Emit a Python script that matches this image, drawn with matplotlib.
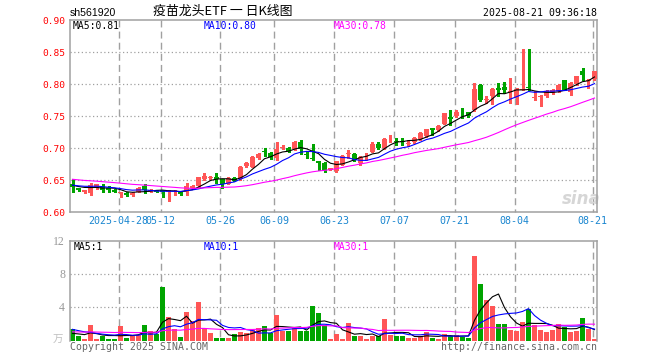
import numpy as np
import pandas as pd
import matplotlib
matplotlib.use("Agg")
import matplotlib.pyplot as plt
from matplotlib.lines import Line2D

W, H = 660, 360

# ---------------- data ----------------
date_labels = ["2025-04-28", "05-12", "05-26", "06-09", "06-23", "07-07", "07-21", "08-04", "08-21"]
date_index = [8, 15, 25, 34, 44, 54, 64, 74, 87]

open_ = [0.643, 0.637, 0.631, 0.629, 0.637, 0.641, 0.638, 0.635, 0.629, 0.630,
         0.626, 0.632, 0.640, 0.632, 0.634, 0.634, 0.632, 0.632, 0.631, 0.632,
         0.638, 0.640, 0.652, 0.653, 0.654, 0.651, 0.644, 0.653, 0.651, 0.672,
         0.671, 0.684, 0.696, 0.692, 0.684, 0.700, 0.700, 0.698, 0.710, 0.691,
         0.685, 0.679, 0.677, 0.666, 0.664, 0.674, 0.691, 0.690, 0.676, 0.687,
         0.694, 0.707, 0.700, 0.715, 0.711, 0.711, 0.707, 0.709, 0.714, 0.718,
         0.731, 0.728, 0.738, 0.748, 0.750, 0.755, 0.756, 0.759, 0.799, 0.775,
         0.781, 0.793, 0.795, 0.788, 0.778, 0.791, 0.795, 0.778, 0.780, 0.781,
         0.786, 0.789, 0.806, 0.787, 0.800, 0.820, 0.805, 0.808]
high = [0.652, 0.638, 0.635, 0.645, 0.644, 0.644, 0.640, 0.636, 0.632, 0.631,
        0.631, 0.639, 0.644, 0.636, 0.635, 0.635, 0.635, 0.635, 0.632, 0.645,
        0.642, 0.655, 0.661, 0.657, 0.661, 0.652, 0.655, 0.654, 0.672, 0.678,
        0.688, 0.692, 0.700, 0.694, 0.710, 0.705, 0.702, 0.711, 0.713, 0.696,
        0.707, 0.680, 0.678, 0.669, 0.680, 0.689, 0.697, 0.692, 0.688, 0.692,
        0.709, 0.709, 0.716, 0.721, 0.716, 0.716, 0.713, 0.717, 0.725, 0.730,
        0.732, 0.736, 0.755, 0.760, 0.760, 0.762, 0.757, 0.802, 0.800, 0.781,
        0.793, 0.802, 0.803, 0.809, 0.793, 0.854, 0.854, 0.789, 0.783, 0.790,
        0.792, 0.800, 0.807, 0.803, 0.813, 0.825, 0.808, 0.821]
low = [0.631, 0.633, 0.629, 0.627, 0.636, 0.632, 0.631, 0.631, 0.623, 0.625,
       0.625, 0.631, 0.629, 0.631, 0.631, 0.623, 0.617, 0.627, 0.627, 0.627,
       0.637, 0.639, 0.650, 0.652, 0.645, 0.638, 0.643, 0.648, 0.650, 0.671,
       0.670, 0.683, 0.688, 0.683, 0.682, 0.699, 0.694, 0.697, 0.690, 0.684,
       0.681, 0.666, 0.662, 0.665, 0.663, 0.673, 0.684, 0.679, 0.674, 0.682,
       0.693, 0.698, 0.699, 0.710, 0.704, 0.704, 0.703, 0.708, 0.712, 0.717,
       0.720, 0.727, 0.737, 0.736, 0.749, 0.747, 0.749, 0.758, 0.774, 0.770,
       0.768, 0.781, 0.786, 0.770, 0.768, 0.790, 0.790, 0.775, 0.765, 0.780,
       0.785, 0.788, 0.790, 0.783, 0.799, 0.807, 0.794, 0.807]
close = [0.639, 0.634, 0.634, 0.642, 0.643, 0.634, 0.635, 0.632, 0.631, 0.626,
         0.630, 0.638, 0.634, 0.635, 0.632, 0.632, 0.633, 0.633, 0.628, 0.640,
         0.640, 0.654, 0.657, 0.655, 0.651, 0.643, 0.653, 0.649, 0.671, 0.676,
         0.686, 0.690, 0.693, 0.686, 0.698, 0.702, 0.696, 0.709, 0.698, 0.689,
         0.683, 0.677, 0.664, 0.668, 0.679, 0.688, 0.692, 0.681, 0.686, 0.688,
         0.707, 0.700, 0.714, 0.716, 0.710, 0.710, 0.708, 0.716, 0.723, 0.729,
         0.728, 0.735, 0.754, 0.746, 0.756, 0.754, 0.750, 0.792, 0.775, 0.776,
         0.792, 0.791, 0.790, 0.789, 0.792, 0.792, 0.794, 0.779, 0.781, 0.789,
         0.791, 0.799, 0.791, 0.802, 0.812, 0.814, 0.807, 0.820]
volume = [1.39, 0.55, 0.19, 1.87, 0.19, 0.59, 0.19, 0.19, 1.75, 0.35,
          0.55, 0.67, 1.87, 1.19, 0.79, 6.47, 2.87, 1.35, 0.47, 3.47,
          2.30, 4.67, 1.50, 0.95, 0.35, 0.35, 0.35, 0.79, 1.00, 0.90,
          1.30, 1.50, 1.75, 0.90, 3.07, 1.20, 1.20, 1.50, 1.20, 1.20,
          4.15, 3.35, 1.90, 0.20, 0.79, 0.23, 2.07, 0.55, 0.55, 0.23,
          0.55, 0.55, 2.59, 0.67, 0.55, 0.55, 0.35, 0.35, 0.55, 1.07,
          0.35, 0.23, 0.79, 0.55, 0.67, 0.47, 0.35, 10.15, 6.79, 4.87,
          4.15, 1.99, 1.99, 1.27, 1.15, 2.27, 3.75, 1.87, 1.27, 1.07,
          1.27, 1.99, 1.67, 1.07, 1.19, 2.75, 1.35, 0.23]

# sessions before the visible window (estimated so the moving averages start where the picture does)
close_before = [0.662, 0.660, 0.659, 0.661, 0.658, 0.657, 0.655, 0.656, 0.654, 0.657,
                0.655, 0.653, 0.656, 0.654, 0.652, 0.655, 0.653, 0.651, 0.654, 0.652,
                0.645, 0.641, 0.643, 0.640, 0.642, 0.644, 0.641, 0.643, 0.642]
volume_before = [0.8, 1.1, 0.7, 0.9, 1.2, 0.6, 0.9, 1.0, 0.8, 0.7,
                 1.3, 0.9, 0.8, 1.0, 0.6, 0.9, 1.1, 0.8, 1.0, 0.9,
                 2.1, 1.6, 2.4, 1.5, 1.55, 0.9, 0.6, 0.8, 0.66]

price_ticks = [0.60, 0.65, 0.70, 0.75, 0.80, 0.85, 0.90]
vol_ticks = [4, 8, 12]
price_ma_labels = ["MA5:0.81", "MA10:0.80", "MA30:0.78"]
vol_ma_labels = ["MA5:1", "MA10:1", "MA30:1"]

# ---------------- styles ----------------
RED = "#ff5656"
GREEN = "#00a400"
MA_COLORS = ["#000000", "#0000ff", "#ff00ff"]
GRID = "#a0a0a0"
BORDER = "#a0a0a0"
MONO = "DejaVu Sans Mono"

n = len(close)
x = np.arange(n)
o = np.array(open_); c = np.array(close); h = np.array(high); l = np.array(low)
v = np.array(volume)
up = c >= o
cols = np.where(up, RED, GREEN)


def mas(before, vals, wins=(5, 10, 30)):
    s = pd.Series(list(before) + list(vals))
    return [s.rolling(w).mean().to_numpy()[len(before):] for w in wins]


pma = mas(close_before, close)
vma = mas(volume_before, volume)

fig = plt.figure(figsize=(W / 100, H / 100), dpi=100)


def box(left, top, right, bottom):
    return [left / W, 1 - bottom / H, (right - left) / W, (bottom - top) / H]


def ft(px, py, s, **kw):
    fig.text(px / W, 1 - py / H, s, **kw)


PANELS = [(20, 212), (240.6, 340.6)]
XL = (-2.5 / 6, (597 - 72.5) / 6)
ax = fig.add_axes(box(70, 20, 597, 212))
axv = fig.add_axes(box(70, 240.6, 597, 340.6))

ax.set_ylim(0.60, 0.90)
axv.set_ylim(0, 12)
for a in (ax, axv):
    a.set_xlim(*XL)
    a.set_autoscale_on(False)
    a.set_xticks([]); a.set_yticks([])
    a.patch.set_visible(False)
    for sp in a.spines.values():
        sp.set_color(BORDER)
        sp.set_linewidth(1.1)
axv.spines["bottom"].set_visible(False)

# vertical dashed date grid (placed via the axes' own data->pixel transform)
for a, (top, bot) in zip((ax, axv), PANELS):
    for di in date_index:
        gx = ax.transData.transform((di - 1 / 3, 0.7))[0] if a is ax else axv.transData.transform((di - 1 / 3, 1))[0]
        fig.add_artist(Line2D([gx / W, gx / W], [1 - top / H, 1 - bot / H], transform=fig.transFigure,
                              color=GRID, lw=1.0, dashes=(5, 3), zorder=-1))

for t in price_ticks[1:-1]:
    ax.plot(list(XL), [t, t], color=GRID, lw=0.9, dashes=(1, 2), zorder=1.5)
for t in vol_ticks[:-1]:
    axv.plot(list(XL), [t, t], color=GRID, lw=0.9, dashes=(1, 2), zorder=1.5)

# candles
bw = 5 / 6
body_h = np.maximum(np.abs(c - o), 0.0011)
ax.vlines(x, l, h, colors=cols, lw=0.75, zorder=2, antialiased=False)
ax.bar(x, body_h, bottom=np.minimum(o, c), width=bw, color=cols, lw=0, zorder=3, antialiased=False)
for m, col in zip(pma, MA_COLORS):
    ax.plot(x, m, color=col, lw=0.8, zorder=4)

# volume
axv.bar(x, v, width=bw, color=cols, lw=0, zorder=2, antialiased=False)
for m, col in zip(vma, MA_COLORS):
    axv.plot(x, m, color=col, lw=0.8, zorder=4)

# price labels
for t in price_ticks:
    py = 20 + (0.90 - t) / 0.30 * 192
    ft(65, py + 1, f"{t:.2f}", color="#ff0000", family=MONO, fontsize=6.8, ha="right", va="center")
for t in vol_ticks:
    py = 340.6 - t / 12 * 100
    ft(65, py + 1, str(t), color="#999999", family="Liberation Serif", fontsize=8.5, ha="right", va="center")
ft(63, 340, "万", color="#c0c0c0", family=["Noto Sans CJK SC", "DejaVu Sans"], fontsize=7.5, ha="right", va="center")

# date labels
for lab, di in zip(date_labels, date_index):
    px = 72.5 + 6 * di - 2
    ft(px, 221.5, lab, color="#1a86d0", family=MONO, fontsize=7.2, ha="center", va="center")

# MA legends
for lab, col, px in zip(price_ma_labels, MA_COLORS, [73, 203.5, 334]):
    ft(px, 26, lab, color=col, family=MONO, fontsize=7.0, ha="left", va="center")
for lab, col, px in zip(vol_ma_labels, MA_COLORS, [74, 203.5, 334]):
    ft(px, 246.5, lab, color=col, family=MONO, fontsize=7.0, ha="left", va="center")

# header
ft(70, 13, "sh561920", color="#000000", family="Liberation Sans", fontsize=7.6, ha="left", va="center")
ft(223, 11.5, "疫苗龙头ETF 一 日K线图", color="#000000",
   family=["Noto Sans CJK SC", "DejaVu Sans"], fontsize=9.3, ha="center", va="center")
ft(597, 12.5, "2025-08-21 09:36:18", color="#000000", family=MONO, fontsize=7.1, ha="right", va="center")

# footer
ft(70, 346.5, "Copyright 2025 SINA.COM", color="#666666", family=MONO, fontsize=7.1, ha="left", va="center")
ft(597, 346.5, "http://finance.sina.com.cn", color="#666666", family=MONO, fontsize=7.1, ha="right", va="center")

# watermark
ft(581, 199, "sina", color="#d6d6d6", family="DejaVu Sans", fontsize=12, fontweight="bold",
   style="italic", ha="center", va="center", zorder=-0.5)

fig.savefig("out.png", dpi=100, facecolor="white")
